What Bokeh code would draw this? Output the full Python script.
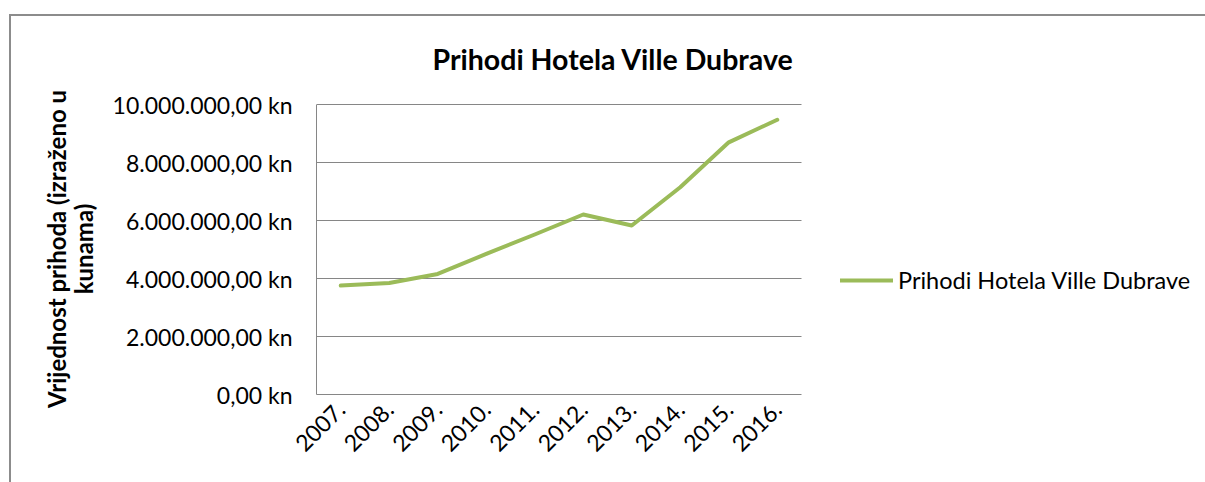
import math
from bokeh.plotting import figure
from bokeh.models import Range1d, FixedTicker, Legend, LegendItem, Grid
from bokeh.embed import file_html
from bokeh.resources import INLINE

years = ["2007.", "2008.", "2009.", "2010.", "2011.", "2012.", "2013.", "2014.", "2015.", "2016."]
revenue = [3760000, 3850000, 4160000, 4850000, 5520000, 6210000, 5830000, 7150000, 8700000, 9480000]
y_ticks = [0, 2000000, 4000000, 6000000, 8000000, 10000000]
y_tick_labels = ["0,00 kn", "2.000.000,00 kn", "4.000.000,00 kn", "6.000.000,00 kn",
                 "8.000.000,00 kn", "10.000.000,00 kn"]
title_text = "Prihodi Hotela Ville Dubrave"
series_name = "Prihodi Hotela Ville Dubrave"
ylabel_text = "Vrijednost prihoda (izraženo u\nkunama)"

x_pos = list(range(len(years)))
cat_lo, cat_hi = -0.5, len(years) - 0.5

FONT = "Lato"
GRID = "#868686"
GREEN = "#9BBB59"
BORDER = "#8c8c8c"

W, H = 1205, 482
LEFT, TOP, BOTTOM = 316, 103, 88
CAT_PX = 48.5
x_end = cat_lo + (W - LEFT) / CAT_PX

p = figure(width=W, height=H, x_range=Range1d(cat_lo, x_end), y_range=Range1d(0, 10040000),
           output_backend="svg", toolbar_location=None,
           min_border_left=LEFT, min_border_right=0, min_border_top=TOP, min_border_bottom=BOTTOM)
p.outline_line_color = None
p.background_fill_color = None
p.border_fill_color = None
p.styles = {
    "background": ("linear-gradient(%s,%s) 9px 14px / 2px 100%% no-repeat, "
                   "linear-gradient(%s,%s) 9px 14px / 100%% 2px no-repeat, white")
                  % (BORDER, BORDER, BORDER, BORDER)
}

p.title.text = title_text
p.title.align = "left"
p.title.offset = 116
p.title.standoff = 55
p.title.text_font = FONT
p.title.text_font_style = "bold"
p.title.text_font_size = "28.5px"
p.title.text_color = "#000000"

# grid lines limited to the category span
p.xgrid.grid_line_color = None
if "cross_bounds" in Grid.properties():
    p.ygrid.ticker = FixedTicker(ticks=y_ticks)
    p.ygrid.grid_line_color = GRID
    p.ygrid.cross_bounds = (cat_lo, cat_hi)
else:
    p.ygrid.grid_line_color = None
    p.segment(x0=[cat_lo] * len(y_ticks), y0=y_ticks, x1=[cat_hi] * len(y_ticks), y1=y_ticks,
              line_color=GRID, line_width=1)

r = p.line(x_pos, revenue, line_color=GREEN, line_width=4, line_join="round", line_cap="round")

p.yaxis.ticker = FixedTicker(ticks=y_ticks)
p.yaxis.major_label_overrides = {t: l for t, l in zip(y_ticks, y_tick_labels)}
p.yaxis.major_tick_line_color = None
p.yaxis.minor_tick_line_color = None
p.yaxis.axis_line_color = GRID
p.yaxis.bounds = (0, 10000000)
p.yaxis.major_label_text_font = FONT
p.yaxis.major_label_text_font_size = "23px"
p.yaxis.major_label_text_color = "#000000"
p.yaxis.major_label_standoff = 18
p.yaxis.axis_label = ylabel_text
p.yaxis.axis_label_text_font = FONT
p.yaxis.axis_label_text_font_style = "bold"
p.yaxis.axis_label_text_font_size = "24px"
p.yaxis.axis_label_text_line_height = 0.93
p.yaxis.axis_label_text_color = "#000000"
p.yaxis.axis_label_standoff = 12

p.xaxis.ticker = FixedTicker(ticks=x_pos)
p.xaxis.major_label_overrides = {i: y for i, y in zip(x_pos, years)}
p.xaxis.bounds = (cat_lo, cat_hi)
p.xaxis.major_tick_line_color = None
p.xaxis.minor_tick_line_color = None
p.xaxis.axis_line_color = GRID
p.xaxis.major_label_orientation = math.pi / 4
p.xaxis.major_label_text_font = FONT
p.xaxis.major_label_text_font_size = "23px"
p.xaxis.major_label_text_color = "#000000"
p.xaxis.major_label_standoff = 5

legend = Legend(items=[LegendItem(label=series_name, renderers=[r])], location=(524, 100),
                padding=0, margin=0, spacing=0, glyph_width=53, glyph_height=24,
                label_height=24, label_standoff=5, border_line_color=None,
                background_fill_alpha=0, label_text_font=FONT, label_text_font_size="23.5px",
                label_text_color="#000000", label_text_baseline="middle")
p.add_layout(legend, "center")

open("out.html", "w").write(file_html(p, INLINE))
